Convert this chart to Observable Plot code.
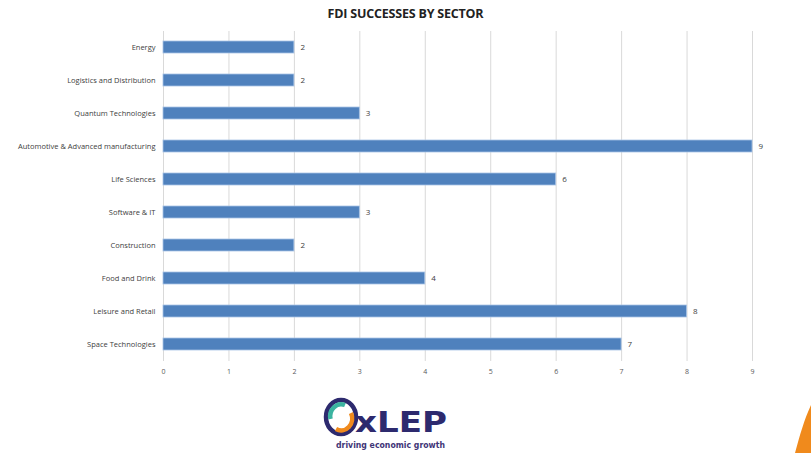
<!DOCTYPE html>
<html>
<head>
<meta charset="utf-8">
<script src="https://cdn.jsdelivr.net/npm/d3@7"></script>
<script src="https://cdn.jsdelivr.net/npm/@observablehq/plot@0.6"></script>
<style>
  html, body { margin: 0; padding: 0; background: #fff; }
  #wrap { position: relative; width: 811px; height: 453px; overflow: hidden; }
  #title { position: absolute; top: 5px; left: 0; width: 811px; text-align: center;
           font-family: "Open Sans", sans-serif; font-weight: 700; font-size: 12.5px; color: #222; letter-spacing: -0.2px; }
  #chart { position: absolute; top: 0; left: 0; }
  #logo { position: absolute; left: 320px; top: 392px; }
  #deco { position: absolute; left: 760px; top: 390px; }
</style>
</head>
<body>
<div id="wrap">
  <div id="chart"></div>
  <div id="title">FDI SUCCESSES BY SECTOR</div>
  <svg id="logo" width="190" height="61" viewBox="0 0 190 61">
    <ellipse cx="21" cy="25" rx="15" ry="17" fill="none" stroke="#2d2a6e" stroke-width="4.5"/>
    <path d="M10.5 27 A11 12 0 0 1 25 13" fill="none" stroke="#3bb3a0" stroke-width="4.5"/>
    <path d="M31 21 A11 12 0 0 1 16 37" fill="none" stroke="#f08a1c" stroke-width="4.5"/>
    <text x="35" y="40" font-family="'DejaVu Sans', sans-serif" font-weight="700" font-size="29" fill="#2d2a6e" textLength="92" lengthAdjust="spacingAndGlyphs">xLEP</text>
    <text x="16" y="55.5" font-family="'DejaVu Sans', sans-serif" font-weight="700" font-size="9" fill="#3f3577" textLength="109" lengthAdjust="spacingAndGlyphs">driving economic growth</text>
  </svg>
  <svg id="deco" width="51" height="63" viewBox="0 0 51 63">
    <path d="M35 63 C40 45 44 30 51 15 L51 63 Z" fill="#f08a1c"/>
  </svg>
</div>
<script>
const sectors = [
  "Energy",
  "Logistics and Distribution",
  "Quantum Technologies",
  "Automotive & Advanced manufacturing",
  "Life Sciences",
  "Software & IT",
  "Construction",
  "Food and Drink",
  "Leisure and Retail",
  "Space Technologies"
];
const successes = [2, 2, 3, 9, 6, 3, 2, 4, 8, 7];
const xTicks = [0, 1, 2, 3, 4, 5, 6, 7, 8, 9];

const data = sectors.map((s, i) => ({sector: s, value: successes[i]}));

const chart = Plot.plot({
  width: 811,
  height: 386,
  marginTop: 31,
  marginBottom: 25,
  marginLeft: 163,
  marginRight: 59,
  style: {fontFamily: "'Open Sans', sans-serif", fontSize: "7.5px", color: "#595959", background: "transparent"},
  x: {domain: [0, 9], ticks: xTicks, tickSize: 0, tickPadding: 8, label: null, grid: false},
  y: {domain: sectors, paddingInner: 0.63, paddingOuter: 0.315, tickSize: 0, tickPadding: 8, label: null},
  marks: [
    Plot.ruleX(xTicks, {stroke: "#d9d9d9", strokeWidth: 1}),
    Plot.barX(data, {x: "value", y: "sector", fill: "#4f81bd", stroke: "#a9c4e6", strokeWidth: 0.8}),
    Plot.text(data, {x: "value", y: "sector", text: d => String(d.value), dx: 6, textAnchor: "start", fill: "#404040", fontSize: 8}),
    Plot.axisX({ticks: xTicks, tickSize: 0, tickPadding: 8, label: null, fill: "#595959", fontSize: 7}),
    Plot.axisY({tickSize: 0, tickPadding: 8, label: null, fill: "#404040"})
  ]
});
document.getElementById("chart").appendChild(chart);
</script>
</body>
</html>
